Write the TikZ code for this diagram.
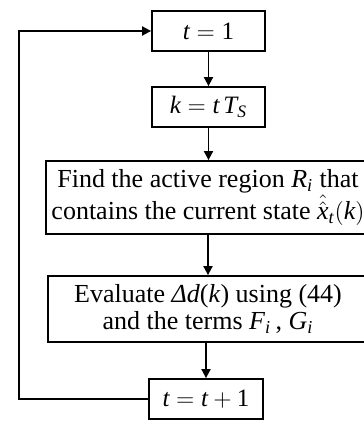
\documentclass[tikz,border=0pt]{standalone}
\usepackage{mathspec}
\setmainfont{Liberation Serif}
\setmathsfont(Digits,Latin){Liberation Serif}
\usetikzlibrary{arrows.meta}

\begin{document}
\begin{tikzpicture}[x=0.5pt,y=-0.5pt,>={Triangle[length=4.5pt,width=4.5pt]},
  every node/.style={font=\fontsize{12.5}{13}\selectfont},
  stepbox/.style={draw,line width=0.9pt,minimum height=20pt,inner sep=0pt,align=center},
  bigbox/.style={stepbox,font=\fontsize{13}{13.5}\selectfont}]
  \useasboundingbox (0,0) rectangle (363,421);

  % Boxes of the loop
  \node[stepbox,minimum width=56.5pt] (init) at (208.5,31) {$t=1$};
  \node[stepbox,minimum width=56.5pt] (sample) at (208.5,107) {$k=t\,T_S$};
  \node[bigbox,minimum width=162pt,minimum height=36.5pt] (region) at (208,197.5)
    {Find the active region $R_i$ that\\ contains the current state $\hat{\hat{x}}_t(k)$};
  \node[bigbox,minimum width=160pt,minimum height=33pt] (eval) at (208,309)
    {Evaluate \textit{Δd}(\textit{k}) using (44)\\ and the terms $F_i$\,, $G_i$};
  \node[stepbox,minimum width=57pt] (incr) at (206,399) {$t=t+1$};
  \coordinate (back) at (19,31);

  % Arrows
  \draw[->,line width=0.9pt] (init) -- (sample);
  \draw[->,line width=0.9pt] (sample.south) -- (sample.south |- region.north);
  \draw[->,line width=0.9pt] (region) -- (eval);
  \draw[->,line width=0.9pt] (eval.south -| incr.north) -- (incr.north);
  \draw[->,line width=0.9pt] (incr.west) -| (back) -- (init.west);
\end{tikzpicture}
\end{document}
